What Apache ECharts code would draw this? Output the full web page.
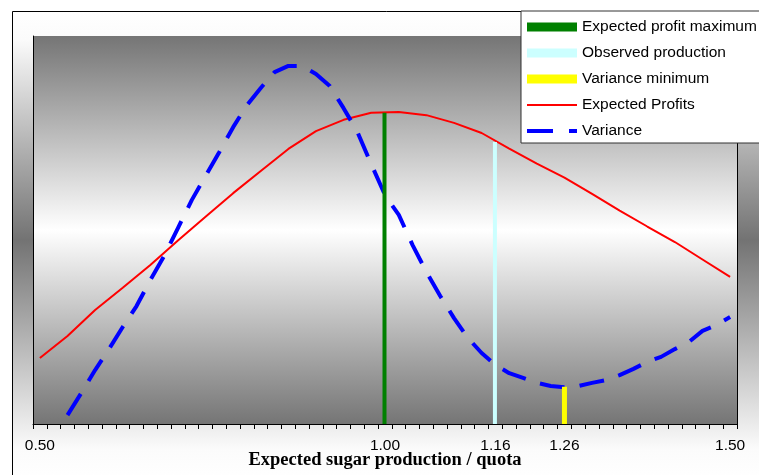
<!DOCTYPE html>
<html>
<head>
<meta charset="utf-8">
<script src="https://cdn.jsdelivr.net/npm/echarts@6/dist/echarts.min.js"></script>
<style>
  html, body { margin: 0; padding: 0; background: #fff; }
  #chart { width: 759px; height: 475px; }
</style>
</head>
<body>
<div id="chart"></div>
<script>
// Categories: expected sugar production / quota
const categories = [
  '0.50','0.52','0.54','0.56','0.58','0.60','0.62','0.64','0.66','0.68',
  '0.70','0.72','0.74','0.76','0.78','0.80','0.82','0.84','0.86','0.88',
  '0.90','0.92','0.94','0.96','0.98','1.00','1.02','1.04','1.06','1.08',
  '1.10','1.12','1.14','1.16','1.18','1.20','1.22','1.24','1.26','1.28',
  '1.30','1.32','1.34','1.36','1.38','1.40','1.42','1.44','1.46','1.48','1.50'
];
// Tick labels shown on the x axis
const shownLabels = ['0.50', '1.00', '1.16', '1.26', '1.50'];

// Expected Profits (relative units, read every 0.04)
const expectedProfits = [
  17.0, null, 22.7, null, 29.4, null, 35.1, null, 41.0, null,
  47.3, null, 53.4, null, 59.5, null, 65.2, null, 70.9, null,
  75.5, null, 78.4, null, 80.2, null, 80.4, null, 79.6, null,
  77.6, null, 75.0, null, 71.0, null, 67.1, null, 63.5, null,
  59.3, null, 55.0, null, 50.9, null, 46.9, null, 42.4, null, 37.9
];
// Variance (relative units)
const variance = [
  null, null, 2.3, 8.0, 13.9, 19.3, 25.0, 30.4, 37.1, 43.3,
  50.5, 57.7, 63.9, 70.1, 76.5, 82.2, 86.6, 90.7, 92.3, 92.3,
  90.2, 87.1, 81.4, 75.3, 67.0, 59.0, 53.9, 46.1, 39.2, 33.0,
  27.3, 22.2, 18.3, 15.2, 13.1, 11.9, 10.6, 9.8, 9.5, 9.8,
  10.6, 11.3, 12.6, 14.2, 16.0, 17.3, 19.3, 21.1, 24.0, 25.5, 27.6
];
// Vertical markers
const profitMaxX = '1.00',   profitMaxY = 80.2;
const observedX = '1.16',    observedY = 72.7;
const varMinX = '1.26',      varMinY = 9.6;

function spike(x, y) { return categories.map(c => (c === x ? y : null)); }

const chart = echarts.init(document.getElementById('chart'), null, { renderer: 'canvas' });

const grad = (stops) => ({ type: 'linear', x: 0, y: 0, x2: 0, y2: 1, colorStops: stops });
const hiddenSymbol = { color: 'rgba(0,0,0,0)', borderWidth: 0, opacity: 0 };

chart.setOption({
  animation: false,
  backgroundColor: '#ffffff',
  graphic: [{
    type: 'rect', z: -10, silent: true,
    shape: { x: 12.5, y: 11.5, width: 800, height: 470 },
    style: {
      fill: grad([{ offset: 0, color: '#ffffff' }, { offset: 0.06, color: '#fbfbfb' },
                  { offset: 0.486, color: '#737373' },
                  { offset: 0.93, color: '#fbfbfb' }, { offset: 1, color: '#ffffff' }]),
      stroke: '#000', lineWidth: 1
    }
  }],
  grid: {
    left: 33, top: 36, right: 22, bottom: 51,
    containLabel: false, outerBoundsMode: 'none',
    show: true, borderWidth: 0,
    backgroundColor: grad([{ offset: 0, color: '#757575' }, { offset: 0.5, color: '#ffffff' }, { offset: 1, color: '#757575' }])
  },
  legend: {
    orient: 'vertical', left: 521, top: 11,
    backgroundColor: '#ffffff', borderColor: '#333', borderWidth: 1,
    padding: [8, 14, 4, 4],
    itemWidth: 50, itemHeight: 9, itemGap: 10,
    textStyle: { fontFamily: 'Liberation Sans', fontSize: 15.5, color: '#000', lineHeight: 16 },
    data: [
      { name: 'Expected profit maximum', icon: 'rect' },
      { name: 'Observed production', icon: 'rect' },
      { name: 'Variance minimum', icon: 'rect' },
      { name: 'Expected Profits', lineStyle: { width: 2 }, itemStyle: hiddenSymbol },
      { name: 'Variance', lineStyle: { width: 4, type: [26, 16] }, itemStyle: hiddenSymbol }
    ]
  },
  xAxis: {
    type: 'category', data: categories, boundaryGap: true,
    name: 'Expected sugar production / quota', nameLocation: 'middle', nameGap: 27,
    nameMoveOverlap: false,
    nameTextStyle: { fontFamily: 'Liberation Serif', fontWeight: 'bold', fontSize: 18.5, color: '#000' },
    axisLine: { lineStyle: { color: '#000', width: 1 } },
    axisTick: { show: true, interval: 0, alignWithLabel: false, length: 5, lineStyle: { color: '#000' } },
    axisLabel: {
      interval: (i, v) => shownLabels.indexOf(v) >= 0,
      margin: 14, fontFamily: 'Liberation Sans', fontSize: 15.5, color: '#000'
    },
    splitLine: { show: false }
  },
  yAxis: [{
    type: 'value', min: 0, max: 100,
    axisLine: { show: true, lineStyle: { color: '#000', width: 1 } },
    axisTick: { show: false }, axisLabel: { show: false }, splitLine: { show: false }
  }, {
    type: 'value', min: 0, max: 100, position: 'right',
    axisLine: { show: true, lineStyle: { color: '#000', width: 1 } },
    axisTick: { show: false }, axisLabel: { show: false }, splitLine: { show: false }
  }],
  series: [
    { name: 'Expected Profits', type: 'line', data: expectedProfits, connectNulls: true,
      symbol: 'none', z: 2, lineStyle: { color: '#ff0000', width: 2 }, itemStyle: { color: '#ff0000' } },
    { name: 'Variance', type: 'line', data: variance, connectNulls: false,
      symbol: 'none', z: 2, lineStyle: { color: '#0000ff', width: 4, type: [25, 15], cap: 'butt' }, itemStyle: { color: '#0000ff' } },
    { name: 'Expected profit maximum', type: 'bar', data: spike(profitMaxX, profitMaxY),
      barWidth: 4, barGap: '-100%', z: 3, itemStyle: { color: '#008000' } },
    { name: 'Observed production', type: 'bar', data: spike(observedX, observedY),
      barWidth: 4, barGap: '-100%', z: 3, itemStyle: { color: '#ccffff' } },
    { name: 'Variance minimum', type: 'bar', data: spike(varMinX, varMinY),
      barWidth: 5, barGap: '-100%', z: 3, itemStyle: { color: '#ffff00' } }
  ]
});
</script>
</body>
</html>
